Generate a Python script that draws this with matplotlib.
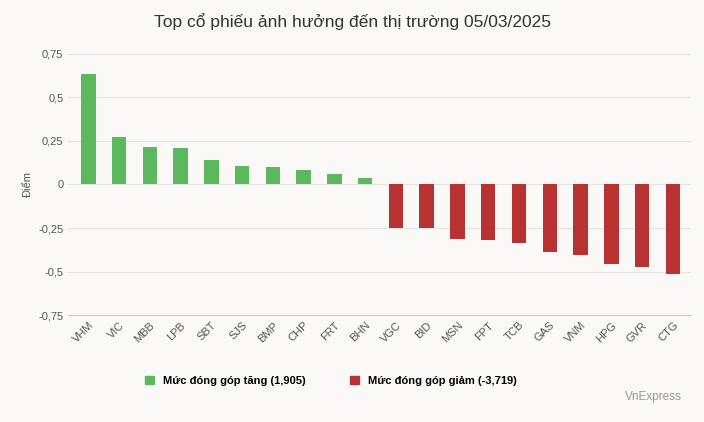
import matplotlib
matplotlib.use("Agg")
import matplotlib.pyplot as plt
from matplotlib.patches import Patch

categories = ["VHM","VIC","MBB","LPB","SBT","SJS","BMP","CHP","FRT","BHN",
              "VGC","BID","MSN","FPT","TCB","GAS","VNM","HPG","GVR","CTG"]
values = [0.635,0.272,0.214,0.208,0.139,0.104,0.098,0.081,0.058,0.035,
          -0.248,-0.248,-0.312,-0.318,-0.336,-0.388,-0.405,-0.458,-0.476,-0.516]
yticks = [-0.75,-0.5,-0.25,0,0.25,0.5,0.75]
ytick_labels = ["-0,75","-0,5","-0,25","0","0,25","0,5","0,75"]

green = "#5cb85c"; red = "#b83232"; bg = "#faf9f7"
plt.rcParams['font.family'] = ['Liberation Sans', 'DejaVu Sans']
fig = plt.figure(figsize=(7.04, 4.22), dpi=100, facecolor=bg)
ax = fig.add_axes([0.097, 0.253, 0.885, 0.62], facecolor=bg)
colors = [green if v >= 0 else red for v in values]
ax.bar(range(len(categories)), values, width=0.47, color=colors, zorder=3)
ax.set_ylim(-0.75, 0.75)
ax.set_xlim(-0.65, len(categories) - 0.4)
ax.set_yticks(yticks)
ax.set_yticklabels(ytick_labels, fontsize=8, color="#555")
ax.set_xticks(range(len(categories)))
ax.set_xticklabels(categories, rotation=45, fontsize=8, color="#555", ha="right", rotation_mode="anchor")
ax.grid(axis="y", color="#e4e4e4", linewidth=0.8, zorder=0)
for s in ["top", "right", "left"]:
    ax.spines[s].set_visible(False)
ax.spines["bottom"].set_color("#cccccc")
ax.tick_params(axis="both", length=0)
ax.set_ylabel("Điểm", fontsize=8, color="#555")
fig.text(0.5, 0.935, "Top cổ phiếu ảnh hưởng đến thị trường 05/03/2025", ha="center", fontsize=12.5, color="#333")
handles = [Patch(color=green, label="Mức đóng góp tăng (1,905)"),
           Patch(color=red, label="Mức đóng góp giảm (-3,719)")]
fig.legend(handles=handles, loc="center", bbox_to_anchor=(0.47, 0.098), ncol=2, frameon=False,
           prop={"weight": "bold", "size": 8}, handlelength=0.8, handleheight=0.8, columnspacing=4)
fig.text(0.968, 0.053, "VnExpress", ha="right", fontsize=8.5, color="#999")
fig.savefig("out.png", dpi=100, facecolor=bg)
